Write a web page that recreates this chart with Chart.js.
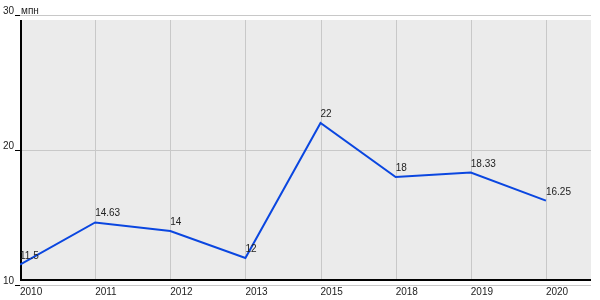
<!DOCTYPE html>
<html>
<head>
<meta charset="utf-8">
<script src="https://cdn.jsdelivr.net/npm/chart.js@4"></script>
<style>
  html, body { margin: 0; padding: 0; background: #fff; }
  #wrap { width: 600px; height: 300px; }
</style>
</head>
<body>
<div id="wrap"><canvas id="chart"></canvas></div>
<script>
// Chart data
const years = ['2010', '2011', '2012', '2013', '2015', '2018', '2019', '2020'];
const values = [11.5, 14.63, 14, 12, 22, 18, 18.33, 16.25];
const valueLabels = ['11.5', '14.63', '14', '12', '22', '18', '18.33', '16.25'];
const yTicks = [10, 20, 30];
const unitLabel = 'мпн';

const FONT = 'Arial, "Liberation Sans", sans-serif';

// Background, grid lines, axes and point labels
const decor = {
  id: 'decor',
  beforeDatasetsDraw(chart) {
    const ctx = chart.ctx;
    const a = chart.chartArea;
    const xs = chart.scales.x, ys = chart.scales.y;
    const top = a.top + 5, bottom = a.bottom - 5;
    ctx.save();
    ctx.fillStyle = '#ebebeb';
    ctx.fillRect(a.left, top, a.right - a.left, bottom - top);

    ctx.strokeStyle = '#c8c8c8';
    ctx.lineWidth = 1;
    years.forEach((y, i) => {
      const px = Math.round(xs.getPixelForValue(i)) + 0.5;
      ctx.beginPath();
      ctx.moveTo(px, top);
      ctx.lineTo(px, bottom);
      ctx.stroke();
    });
    yTicks.forEach(v => {
      const py = Math.round(ys.getPixelForValue(v)) + 0.5;
      ctx.beginPath();
      ctx.moveTo(a.left - 3, py);
      ctx.lineTo(a.right, py);
      ctx.stroke();
    });

    // black tick marks
    ctx.strokeStyle = '#000';
    yTicks.forEach(v => {
      const py = Math.round(ys.getPixelForValue(v)) + 0.5;
      ctx.beginPath();
      ctx.moveTo(a.left - 5, py);
      ctx.lineTo(a.left, py);
      ctx.stroke();
    });

    // axes
    ctx.lineWidth = 2;
    ctx.beginPath();
    ctx.moveTo(a.left + 1, top);
    ctx.lineTo(a.left + 1, bottom);
    ctx.lineTo(a.right, bottom);
    ctx.stroke();

    // unit label
    ctx.fillStyle = '#222';
    ctx.font = '10px ' + FONT;
    ctx.textAlign = 'left';
    ctx.textBaseline = 'alphabetic';
    ctx.fillText(unitLabel, a.left + 1, ys.getPixelForValue(30) - 1);
    ctx.restore();
  },
  afterDatasetsDraw(chart) {
    const ctx = chart.ctx;
    const meta = chart.getDatasetMeta(0);
    ctx.save();
    ctx.fillStyle = '#222';
    ctx.font = '10px ' + FONT;
    ctx.textAlign = 'left';
    ctx.textBaseline = 'alphabetic';
    meta.data.forEach((pt, i) => {
      ctx.fillText(valueLabels[i], pt.x, pt.y - 6);
    });
    ctx.restore();
  }
};

new Chart(document.getElementById('chart'), {
  type: 'line',
  data: {
    datasets: [{
      data: values.map((v, i) => ({ x: i, y: v })),
      borderColor: '#0a46e0',
      borderWidth: 2,
      pointRadius: 0,
      tension: 0,
      fill: false
    }]
  },
  options: {
    responsive: true,
    maintainAspectRatio: false,
    animation: false,
    layout: { padding: { top: 15, right: 9, left: 0, bottom: 0 } },
    plugins: { legend: { display: false }, tooltip: { enabled: false } },
    scales: {
      x: {
        type: 'linear',
        min: 0,
        max: 7.6,
        border: { display: false },
        grid: { display: false, drawTicks: false },
        afterFit(scale) { scale.height = 15; },
        ticks: {
          stepSize: 1,
          autoSkip: false,
          maxRotation: 0,
          align: 'start',
          padding: 1,
          color: '#222',
          font: { family: FONT, size: 10 },
          callback: v => Number.isInteger(v) && years[v] !== undefined ? years[v] : ''
        }
      },
      y: {
        min: 10,
        max: 30,
        border: { display: false },
        grid: { display: false, drawTicks: false },
        afterFit(scale) { scale.width = 20; },
        ticks: {
          stepSize: 10,
          padding: 6,
          labelOffset: -4,
          color: '#222',
          font: { family: FONT, size: 10 }
        }
      }
    }
  },
  plugins: [decor]
});
</script>
</body>
</html>
